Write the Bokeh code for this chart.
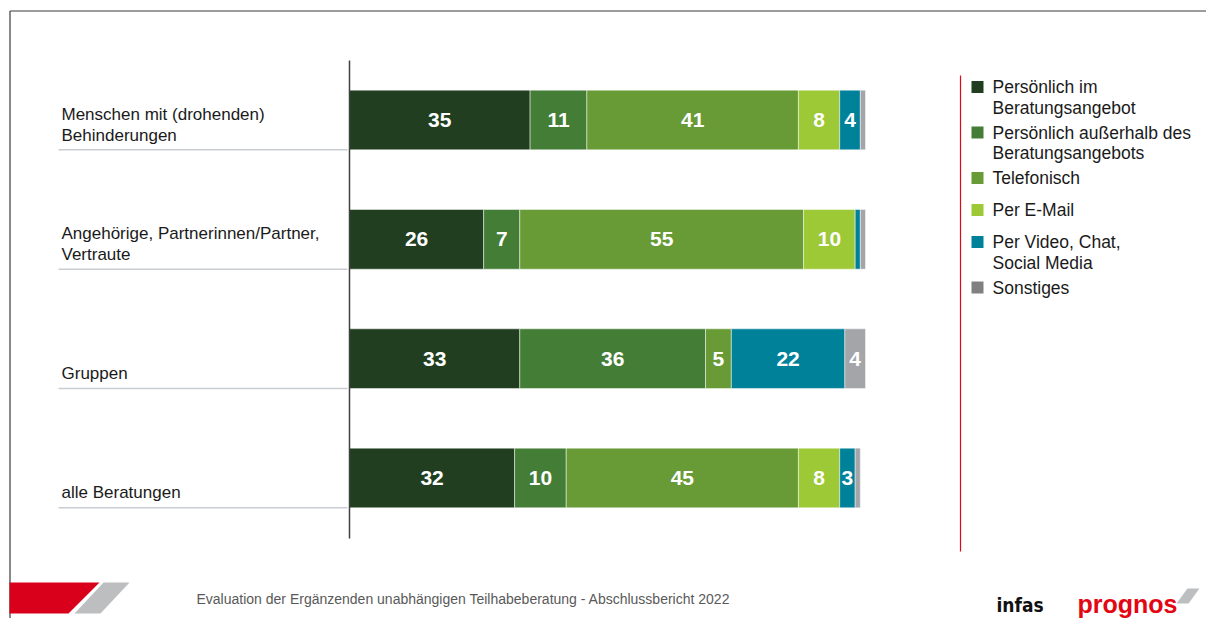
from bokeh.plotting import figure
from bokeh.models import Range1d, ColumnDataSource
from bokeh.core.properties import value
from bokeh.embed import file_html
from bokeh.resources import INLINE

# ---------------- data ----------------
categories = [
    "Menschen mit (drohenden)\nBehinderungen",
    "Angehörige, Partnerinnen/Partner,\nVertraute",
    "Gruppen",
    "alle Beratungen",
]
series_names = [
    "Persönlich im\nBeratungsangebot",
    "Persönlich außerhalb des\nBeratungsangebots",
    "Telefonisch",
    "Per E-Mail",
    "Per Video, Chat,\nSocial Media",
    "Sonstiges",
]
persoenlich_im = [35, 26, 33, 32]
persoenlich_ausserhalb = [11, 7, 36, 10]
telefonisch = [41, 55, 5, 45]
per_email = [8, 10, 0, 8]
per_video = [4, 1, 22, 3]
sonstiges = [1, 1, 4, 1]
series_values = [persoenlich_im, persoenlich_ausserhalb, telefonisch,
                 per_email, per_video, sonstiges]
bar_colors = ["#213f20", "#447d35", "#689b36", "#9cc935", "#00819a", "#a3a5a8"]
legend_colors = ["#213f20", "#447d35", "#689b36", "#9cc935", "#00819a", "#808080"]

footer_text = "Evaluation der Ergänzenden unabhängigen Teilhabeberatung - Abschlussbericht 2022"

# ---------------- layout ----------------
FONT = value("Liberation Sans")
W, H = 1206, 618
OX, OY = 0, 0          # page offset of the canvas
PX_PER_PCT = 5.16      # pixels per percentage point
BAR_X0 = 349           # page x of value 0
ROW0_Y = 119.5         # page y of first row centre
ROW_STEP = 119.33      # pixels per row
BAR_H = 0.5

p = figure(width=W, height=H, output_backend="svg", toolbar_location=None,
           x_range=Range1d((OX - BAR_X0) / PX_PER_PCT, (OX + W - BAR_X0) / PX_PER_PCT),
           y_range=Range1d((OY + H - ROW0_Y) / ROW_STEP, (OY - ROW0_Y) / ROW_STEP),
           x_axis_location=None, y_axis_location=None, min_border=0)
p.grid.visible = False
p.outline_line_color = None
p.background_fill_color = "white"
p.border_fill_color = "white"
p.extra_x_ranges = {"px": Range1d(OX, OX + W)}
p.extra_y_ranges = {"px": Range1d(OY + H, OY)}

# ---------------- slide frame ----------------
p.segment(x0=[9.5, 9.5], y0=[10.5, 10.5], x1=[OX + W, 9.5], y1=[10.5, OY + H],
          x_range_name="px", y_range_name="px", line_color="#3a3a3a", line_width=1.2)

# ---------------- bars ----------------
rows = list(range(len(categories)))
bl, br, by, bc = [], [], [], []
lx, ly, lt = [], [], []
for r in rows:
    cum = 0
    for s, vals in enumerate(series_values):
        v = vals[r]
        if v <= 0:
            continue
        bl.append(cum); br.append(cum + v); by.append(r); bc.append(bar_colors[s])
        if v >= 3:
            lx.append(cum + v / 2); ly.append(r); lt.append(str(v))
        cum += v

p.hbar(y="y", left="left", right="right", height=BAR_H, fill_color="color",
       line_color="white", line_alpha=0.6, line_width=0.8,
       source=ColumnDataSource(dict(y=by, left=bl, right=br, color=bc)))
p.text(x="x", y="y", text="t", source=ColumnDataSource(dict(x=lx, y=ly, t=lt)),
       text_color="white", text_font=FONT, text_font_style="bold",
       text_font_size="21px", text_align="center", text_baseline="middle")

# value axis line
p.segment(x0=[0], y0=[60], x1=[0], y1=[538], y_range_name="px",
          line_color="#404040", line_width=1.5)

# ---------------- category labels ----------------
cx, cy, ct, co = [], [], [], []
for r, cat in zip(rows, categories):
    lines = cat.split("\n")
    n = len(lines)
    for k, line in enumerate(lines):
        cx.append(61); cy.append(r); ct.append(line)
        co.append(15 - 20.5 * (n - 1 - k))
p.text(x="x", y="y", text="t", y_offset="o", x_range_name="px",
       source=ColumnDataSource(dict(x=cx, y=cy, t=ct, o=co)),
       text_color="#1a1a1a", text_font=FONT, text_font_size="17px",
       text_align="left", text_baseline="middle")
p.segment(x0=[58] * len(rows), x1=[347] * len(rows),
          y0=[r + BAR_H / 2 for r in rows], y1=[r + BAR_H / 2 for r in rows],
          x_range_name="px", line_color="#c9cdd1", line_width=1.5)

# ---------------- legend ----------------
p.segment(x0=[960], y0=[75], x1=[960], y1=[551], x_range_name="px", y_range_name="px",
          line_color="#e30613", line_width=1.2)
sq_y, tx, ty, tt = [], [], [], []
yy = 86.5
for name in series_names:
    lines = name.split("\n")
    sq_y.append(yy)
    for k, line in enumerate(lines):
        tx.append(992); ty.append(yy + 20.5 * k); tt.append(line)
    yy += 45.5 if len(lines) > 1 else 32
p.rect(x=[977] * len(sq_y), y=sq_y, width=12, height=12, fill_color=legend_colors,
       line_color=None, x_range_name="px", y_range_name="px")
p.text(x="x", y="y", text="t", source=ColumnDataSource(dict(x=tx, y=ty, t=tt)),
       x_range_name="px", y_range_name="px", text_color="#1a1a1a", text_font=FONT,
       text_font_size="17.5px", text_align="left", text_baseline="middle")

# ---------------- footer ----------------
p.patches(xs=[[9, 99, 68, 9], [103, 129, 100, 74]],
          ys=[[582, 582, 613, 613], [582, 582, 613, 613]],
          fill_color=["#d9001b", "#bcbec0"], line_color=None,
          x_range_name="px", y_range_name="px")
p.text(x=[196], y=[598.5], text=[footer_text], x_range_name="px", y_range_name="px",
       text_color="#595959", text_font=FONT, text_font_size="14px",
       text_align="left", text_baseline="middle")
p.text(x=[996], y=[604], text=["infas"], x_range_name="px", y_range_name="px",
       text_color="#111111", text_font=value("Liberation Sans Narrow, DejaVu Sans Condensed, Liberation Sans"),
       text_font_style="bold", text_font_size="19px", text_align="left",
       text_baseline="alphabetic")
p.patch(x=[1187, 1199, 1188, 1176], y=[588, 588, 603, 603], fill_color="#bcbec0",
        line_color=None, x_range_name="px", y_range_name="px")
p.text(x=[1077], y=[603], text=["prognos"], x_range_name="px", y_range_name="px",
       text_color="#e30613", text_font=FONT, text_font_style="bold",
       text_font_size="25px", text_align="left", text_baseline="alphabetic")

open("out.html", "w").write(file_html(p, INLINE))
